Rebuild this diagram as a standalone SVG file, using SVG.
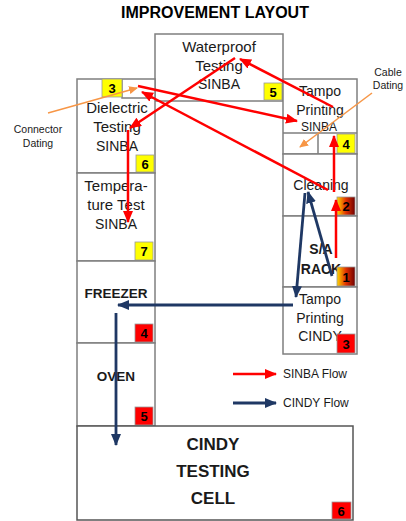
<svg xmlns="http://www.w3.org/2000/svg" width="406" height="521" viewBox="0 0 406 521">
<style>
.box{fill:#fff;stroke:#7f7f7f;stroke-width:1.5}
.ln{fill:none;stroke:#7f7f7f;stroke-width:1.5}
.t{font-family:"Liberation Sans",Arial,sans-serif;font-size:14px;fill:#1a1a1a;text-anchor:middle}
.b{font-weight:bold}
.num{font-family:"Liberation Sans",Arial,sans-serif;font-size:13px;font-weight:bold;fill:#000;text-anchor:middle}
.yel{fill:#ffff00;stroke:#999;stroke-width:0.8}
.red{fill:#ff0000;stroke:#999;stroke-width:0.8}
.grd{fill:url(#g);stroke:#999;stroke-width:0.8}
.ra{stroke:#ff0000;stroke-width:2.5;fill:none;marker-end:url(#mr)}
.ba{stroke:#1f3864;stroke-width:2.8;fill:none;marker-end:url(#mb)}
.oa{stroke:#f79646;stroke-width:1.5;fill:none;marker-end:url(#mo)}
.s{font-family:"Liberation Sans",Arial,sans-serif;font-size:10.5px;fill:#1a1a1a;text-anchor:middle}
</style>
<defs>
<linearGradient id="g" x1="0" y1="0" x2="1" y2="0">
<stop offset="0" stop-color="#ffd700"/>
<stop offset="0.5" stop-color="#e03000"/>
<stop offset="1" stop-color="#700000"/>
</linearGradient>
<marker id="mr" markerUnits="userSpaceOnUse" markerWidth="12" markerHeight="10" refX="11" refY="5" orient="auto"><path d="M0,0 L12,5 L0,10 z" fill="#ff0000"/></marker>
<marker id="mb" markerUnits="userSpaceOnUse" markerWidth="12" markerHeight="10" refX="11" refY="5" orient="auto"><path d="M0,0 L12,5 L0,10 z" fill="#1f3864"/></marker>
<marker id="mo" markerUnits="userSpaceOnUse" markerWidth="9" markerHeight="8" refX="8" refY="4" orient="auto"><path d="M0,0 L9,4 L0,8 z" fill="#f79646"/></marker>
</defs>
<rect width="406" height="521" fill="#fff"/>
<text x="215" y="18" class="t b" style="font-size:16px;fill:#000">IMPROVEMENT LAYOUT</text>

<g id="waterproof">
<rect class="box" x="155" y="34" width="128" height="67"/>
<text class="t" style="font-size:15px" x="219" y="52">Waterproof</text>
<text class="t" style="font-size:15px" x="219" y="71">Testing</text>
<text class="t" x="219" y="89">SINBA</text>
<rect class="yel" x="264" y="83" width="18" height="17"/><text class="num" x="273" y="97">5</text>
</g>

<g id="dielectric">
<rect class="box" x="77" y="79" width="78" height="94"/>
<path class="ln" d="M122,79 V98 H155"/>
<rect class="yel" x="102" y="79" width="20" height="18"/><text class="num" x="112" y="93">3</text>
<text class="t" style="font-size:15px" x="117" y="113">Dielectric</text>
<text class="t" style="font-size:15px" x="117" y="132">Testing</text>
<text class="t" x="117" y="151">SINBA</text>
<rect class="yel" x="136" y="155" width="18" height="17"/><text class="num" x="145" y="169">6</text>
</g>

<g id="temperature">
<rect class="box" x="77" y="173" width="78" height="88"/>
<text class="t" style="font-size:15px" x="116" y="191">Tempera-</text>
<text class="t" style="font-size:15px" x="116" y="210">ture Test</text>
<text class="t" x="116" y="229">SINBA</text>
<rect class="yel" x="135" y="242" width="18" height="18"/><text class="num" x="144" y="256">7</text>
</g>

<g id="freezer">
<rect class="box" x="77" y="261" width="78" height="82"/>
<text class="t b" style="font-size:13.5px" x="116" y="298">FREEZER</text>
<rect class="red" x="135" y="324" width="18" height="18"/><text class="num" x="144" y="338">4</text>
</g>

<g id="oven">
<rect class="box" x="77" y="343" width="78" height="83"/>
<text class="t b" style="font-size:13.5px" x="116" y="381">OVEN</text>
<rect class="red" x="135" y="407" width="18" height="18"/><text class="num" x="144" y="421">5</text>
</g>

<g id="tampo-sinba">
<rect class="box" x="283" y="79" width="74" height="75"/>
<path class="ln" d="M283,133 H357 M318,133 V154"/>
<text class="t" x="320" y="96">Tampo</text>
<text class="t" x="320" y="115">Printing</text>
<text class="t" style="font-size:12px" x="319" y="131">SINBA</text>
<rect class="yel" x="337" y="134" width="18" height="19"/><text class="num" x="346" y="149">4</text>
</g>

<g id="cleaning">
<rect class="box" x="283" y="154" width="74" height="62"/>
<text class="t" x="321" y="190">Cleaning</text>
<rect class="grd" x="337" y="197" width="18" height="18"/><text class="num" x="346" y="211">2</text>
</g>

<g id="sa-rack">
<rect class="box" x="283" y="216" width="74" height="71"/>
<text class="t b" x="321" y="254">S/A</text>
<text class="t b" x="321" y="274">RACK</text>
<rect class="grd" x="337" y="267" width="18" height="19"/><text class="num" x="346" y="282">1</text>
</g>

<g id="tampo-cindy">
<rect class="box" x="283" y="287" width="74" height="67"/>
<text class="t" x="320" y="304">Tampo</text>
<text class="t" x="320" y="323">Printing</text>
<text class="t" x="320" y="341">CINDY</text>
<rect class="red" x="337" y="334" width="18" height="19"/><text class="num" x="346" y="349">3</text>
</g>

<g id="cindy-cell">
<rect class="box" x="77" y="426" width="276" height="94" style="stroke:#555"/>
<text class="t b" style="font-size:17px" x="213" y="450">CINDY</text>
<text class="t b" style="font-size:17px" x="213" y="477">TESTING</text>
<text class="t b" style="font-size:17px" x="213" y="504">CELL</text>
<rect class="red" x="332" y="502" width="19" height="17"/><text class="num" x="341" y="516">6</text>
</g>

<g id="labels">
<text class="s" x="38" y="133">Connector</text>
<text class="s" x="38" y="147">Dating</text>
<text class="s" x="388" y="76">Cable</text>
<text class="s" x="388" y="89">Dating</text>
</g>

<g id="connectors">
<line class="ra" x1="336" y1="258" x2="336" y2="200"/>
<line class="ra" x1="334" y1="192" x2="334" y2="136"/>
<line class="ra" x1="333" y1="107" x2="240" y2="59"/>
<line class="ra" x1="235" y1="58" x2="130" y2="128"/>
<line class="ra" x1="128" y1="130" x2="128" y2="222"/>
<line class="ra" x1="328" y1="190" x2="142" y2="92"/>
<line class="ra" x1="138" y1="86" x2="297" y2="121"/>
<line class="oa" x1="48" y1="113" x2="137" y2="88"/>
<line class="oa" x1="372" y1="93" x2="300" y2="147"/>
<line class="ba" x1="332" y1="276" x2="308" y2="192"/>
<line class="ba" x1="305" y1="193" x2="296" y2="297"/>
<line class="ba" x1="293" y1="305" x2="118" y2="305"/>
<line class="ba" x1="116" y1="313" x2="116" y2="445"/>
</g>

<g id="legend">
<line class="ra" x1="233" y1="374" x2="276" y2="374"/>
<text class="t" style="font-size:12px;text-anchor:start" x="283" y="378">SINBA Flow</text>
<line class="ba" x1="233" y1="403" x2="276" y2="403"/>
<text class="t" style="font-size:12px;text-anchor:start" x="283" y="407">CINDY Flow</text>
</g>
</svg>
